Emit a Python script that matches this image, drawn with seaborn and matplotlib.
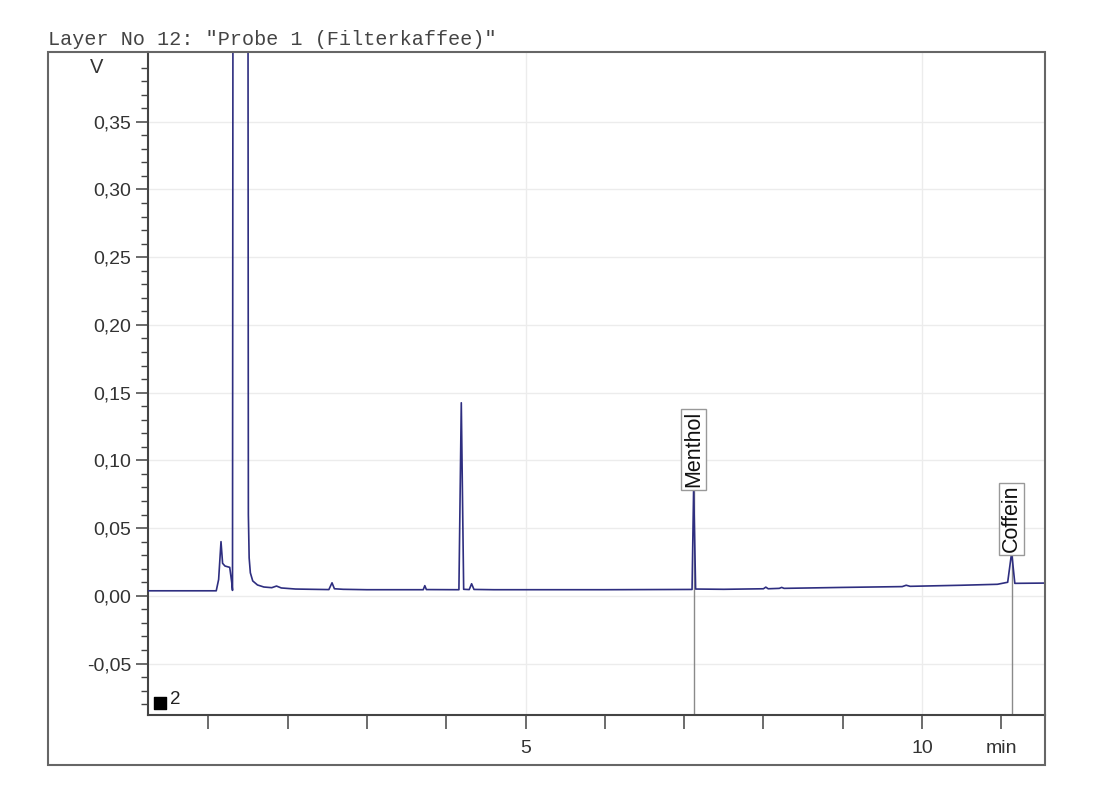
import matplotlib
matplotlib.use("Agg")
import matplotlib.pyplot as plt
import matplotlib.ticker as mticker
from matplotlib.patches import Rectangle
import pandas as pd
import seaborn as sns

# chromatogram trace (time in min, signal in V)
time_min = [0.24, 1.10, 1.13, 1.16, 1.18, 1.21, 1.27, 1.295, 1.305, 1.41,
            1.505, 1.515, 1.53, 1.56, 1.62, 1.70, 1.80, 1.86, 1.92, 2.10,
            2.30, 2.52, 2.56, 2.59, 2.70, 3.00, 3.71, 3.73, 3.75, 4.16,
            4.19, 4.22, 4.29, 4.32, 4.35, 4.60, 6.00, 7.10, 7.12, 7.145,
            7.50, 8.00, 8.03, 8.06, 8.20, 8.23, 8.26, 9.00, 9.75, 9.80,
            9.85, 10.50, 10.95, 11.08, 11.13, 11.17, 11.55]
signal_v = [0.0037, 0.0037, 0.012, 0.040, 0.024, 0.022, 0.021, 0.010, 0.0040, 8.0,
            0.060, 0.028, 0.017, 0.011, 0.008, 0.0065, 0.0060, 0.0072, 0.0058, 0.0050,
            0.0048, 0.0046, 0.0096, 0.0052, 0.0048, 0.0045, 0.0045, 0.0075, 0.0046, 0.0045,
            0.1425, 0.0048, 0.0046, 0.0089, 0.0047, 0.0045, 0.0045, 0.0047, 0.080, 0.0050,
            0.0048, 0.0052, 0.0064, 0.0052, 0.0055, 0.0062, 0.0055, 0.0062, 0.0068, 0.0078,
            0.0070, 0.0078, 0.0085, 0.0100, 0.032, 0.0092, 0.0094]

# named peaks
peak_names = ["Menthol", "Coffein"]
peak_times = [7.12, 11.13]
peak_heights = [0.080, 0.032]

y_major = [-0.05, 0.00, 0.05, 0.10, 0.15, 0.20, 0.25, 0.30, 0.35]
y_minor = [v / 100 for v in range(-8, 40)]
x_ticks = [1, 2, 3, 4, 5, 6, 7, 8, 9, 10, 11]
x_labels = ["", "", "", "", "5", "", "", "", "", "10", "min"]

title = 'Layer No 12: "Probe 1 (Filterkaffee)"'


def main():
    sns.set_theme(style="white")
    plt.rcParams["font.family"] = ["Liberation Sans", "DejaVu Sans"]

    fig = plt.figure(figsize=(10.95, 8.0), dpi=100)
    ax = fig.add_axes([0.1352, 0.10625, 0.8191, 0.82875])

    df = pd.DataFrame({"t": time_min, "v": signal_v})

    # gray marker lines from axis bottom to named peaks
    for t, h in zip(peak_times, peak_heights):
        ax.plot([t, t], [-0.1, h], color="#8a8a8a", lw=1.0, zorder=1)

    sns.lineplot(data=df, x="t", y="v", ax=ax, color="#2e2e80", lw=1.2,
                 estimator=None, sort=False, zorder=3)

    ax.set_xlim(0.24, 11.55)
    ax.set_ylim(-0.088, 0.4015)

    ax.yaxis.set_major_locator(mticker.FixedLocator(y_major))
    ax.yaxis.set_minor_locator(mticker.FixedLocator(y_minor))
    ax.yaxis.set_major_formatter(
        mticker.FuncFormatter(lambda v, p: f"{v:.2f}".replace(".", ",")))
    ax.set_xticks(x_ticks)
    ax.set_xticklabels(x_labels)

    ax.grid(axis="y", which="major", color="#ececec", lw=1.0, zorder=0)
    for xv in (5, 10):
        ax.axvline(xv, color="#ececec", lw=1.0, zorder=0)

    ax.tick_params(axis="y", which="major", direction="out", length=9, width=1.1,
                   color="#444444", labelsize=14, labelcolor="#333333", pad=3, left=True)
    ax.tick_params(axis="y", which="minor", direction="out", length=5, width=1.0,
                   color="#444444", left=True)
    ax.tick_params(axis="x", which="major", direction="out", length=10, width=1.1,
                   color="#444444", labelsize=14, labelcolor="#333333", pad=8, bottom=True)

    for s in ("top", "right"):
        ax.spines[s].set_visible(False)
    for s in ("left", "bottom"):
        ax.spines[s].set_color("#444444")
        ax.spines[s].set_linewidth(1.5)

    ax.set_xlabel("")
    ax.set_ylabel("")

    # unit label on y axis
    ax.text(-0.057, 0.976, "V", transform=ax.transAxes, ha="center", va="center",
            fontsize=14.5, color="#333333")

    # peak name boxes
    for name, t, h in zip(peak_names, peak_times, peak_heights):
        ax.text(t, h, name, rotation=90, ha="center", va="bottom", fontsize=15.5,
                color="#111111", zorder=4,
                bbox=dict(boxstyle="square,pad=0.1", fc="white", ec="#999999", lw=1.0))

    # channel marker
    ax.scatter([0.39], [-0.0795], marker="s", s=70, color="black", zorder=4)
    ax.text(0.52, -0.0765, "2", fontsize=13.5, color="#222222", va="center", ha="left")

    # outer frame
    fig.patches.append(Rectangle((0.0438, 0.04375), 0.9105, 0.891, transform=fig.transFigure,
                                 fill=False, ec="#666666", lw=1.5))

    fig.text(0.0438, 0.939, title, family=["Liberation Mono", "DejaVu Sans Mono"],
             fontsize=14.5, color="#444444", ha="left", va="bottom")

    fig.savefig("out.png", dpi=100)


if __name__ == "__main__":
    main()
